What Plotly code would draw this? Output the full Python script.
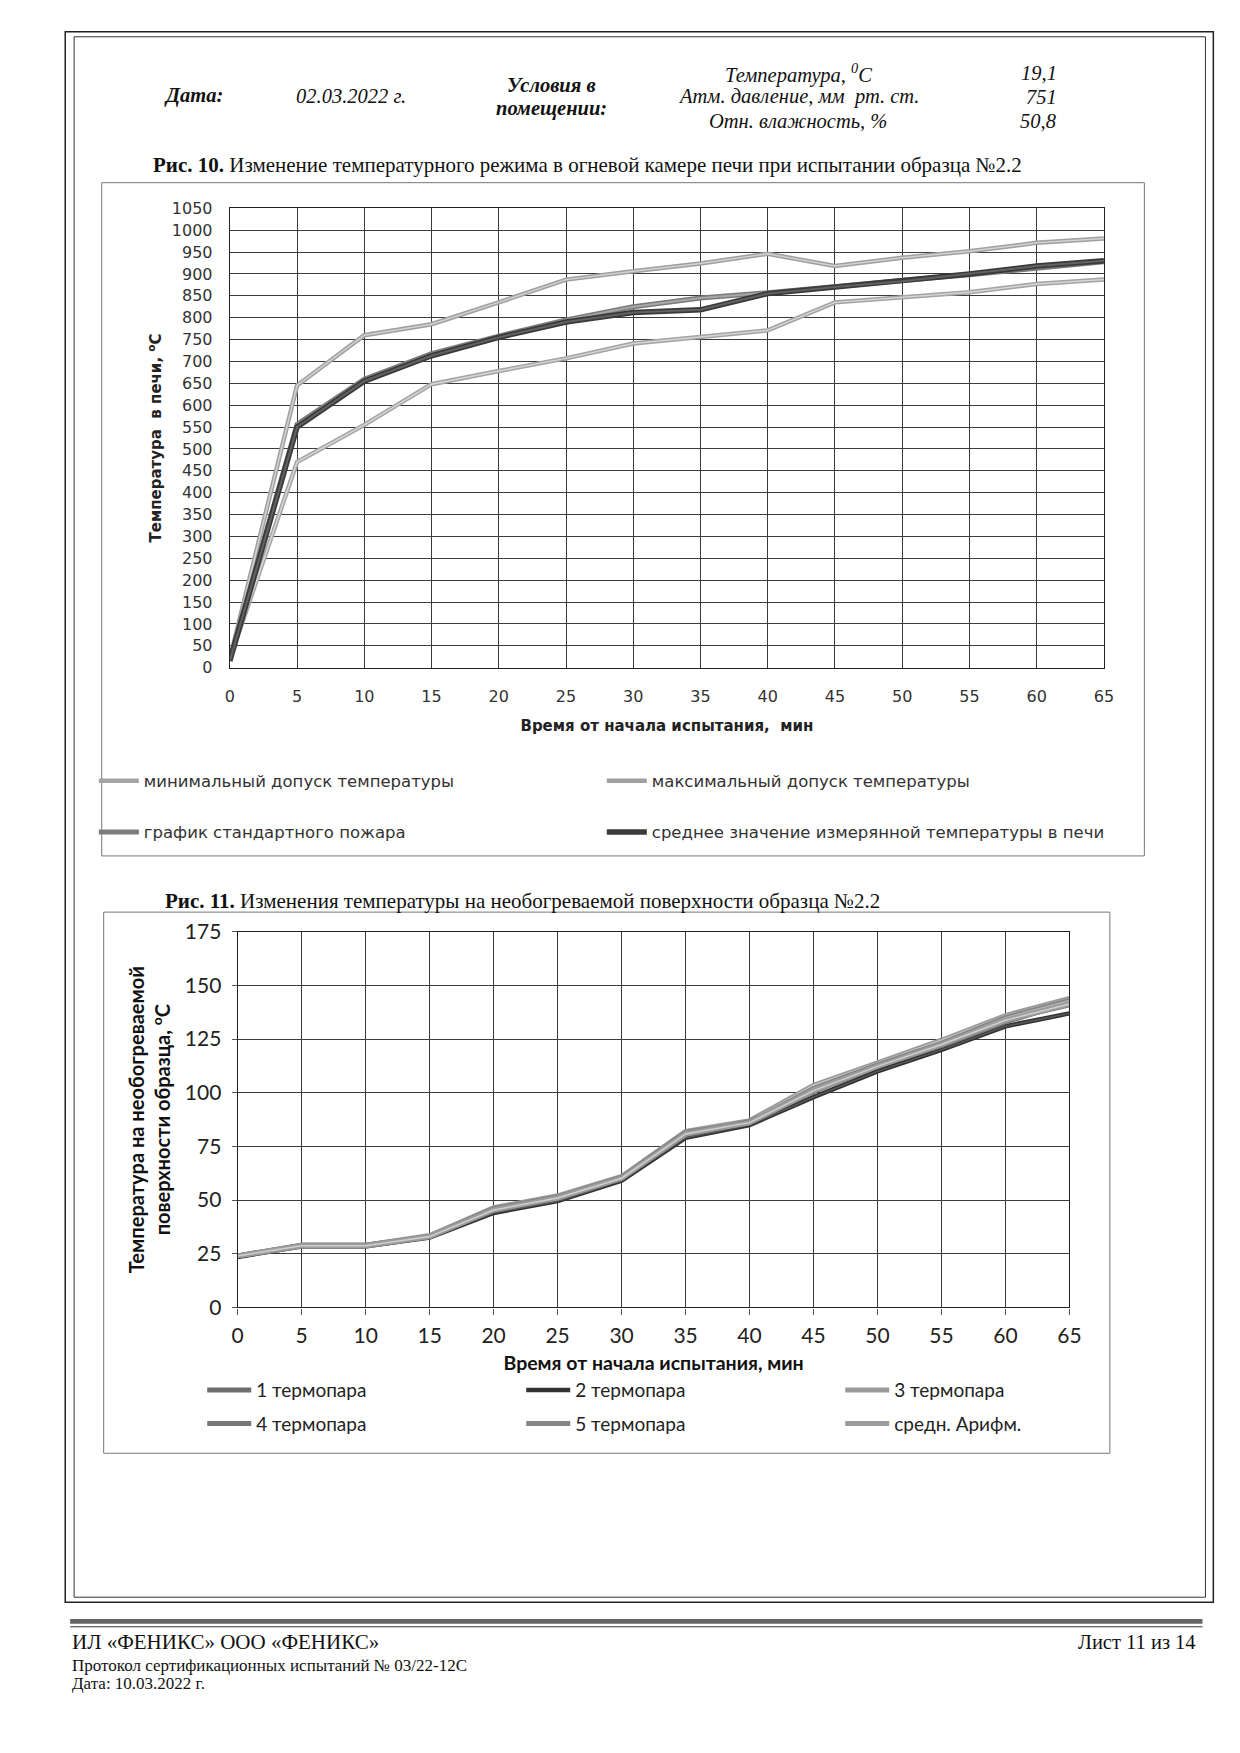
import plotly.graph_objects as go

# ---------------- data ----------------
time_min = [0, 5, 10, 15, 20, 25, 30, 35, 40, 45, 50, 55, 60, 65]

# Fig. 10 – furnace temperature
t_min_tol = [20, 470, 555, 648, 678, 707, 741, 756, 771, 835, 847, 858, 877, 887]
t_max_tol = [20, 645, 760, 785, 835, 887, 906, 924, 946, 918, 937, 952, 971, 981]
t_standard = [20, 556, 659, 718, 758, 795, 825, 845, 857, 872, 885, 898, 914, 928]
t_measured = [15, 550, 655, 713, 755, 790, 812, 818, 855, 870, 883, 900, 918, 930]

# Fig. 11 – unexposed surface temperature
tc1 = [24, 29, 29, 33, 45, 51, 60, 81, 86, 101, 112, 123, 134, 141]
tc2 = [23.5, 28.5, 28.5, 32.5, 44, 49.5, 59, 79, 85, 98, 110, 120, 131, 137]
tc3 = [24, 29, 29, 33.5, 46.5, 52, 61, 82, 87, 103.5, 114, 124.5, 136, 144]
tc4 = [24, 28.5, 28.5, 33, 45.5, 51, 60.5, 80.5, 86.5, 100.5, 112.5, 122, 133, 142]
tc5 = [24, 29, 29, 33, 46, 51.5, 60.5, 81.5, 86, 102, 113, 123, 135, 143]
tc_avg = [24, 28.7, 28.7, 33, 45.4, 51, 60.2, 80.8, 86.1, 101, 112.3, 122.5, 133.8, 141.4]

names1 = ["минимальный допуск температуры", "максимальный допуск температуры",
          "график стандартного пожара", "среднее значение измерянной температуры в печи"]
names2 = ["1 термопара", "2 термопара", "3 термопара", "4 термопара", "5 термопара", "средн. Арифм."]

x_ticks = list(range(0, 70, 5))
y1_ticks = list(range(0, 1100, 50))
y2_ticks = list(range(0, 200, 25))

# ---------------- helpers ----------------
W, H = 1240, 1753
def fx(px):
    return px / W
def fy(py):
    return 1 - py / H

SERIF = "Liberation Serif"
F1 = "DejaVu Sans"
F2 = "Lato"

fig = go.Figure()

def add_series(x, y, name, outer, inner, wo, wi, xa, ya, legend):
    fig.add_trace(go.Scatter(x=x, y=y, mode="lines", name=name,
                             line=dict(color=outer, width=wo),
                             xaxis=xa, yaxis=ya, legend=legend, showlegend=True))
    fig.add_trace(go.Scatter(x=x, y=y, mode="lines", name=name,
                             line=dict(color=inner, width=wi),
                             xaxis=xa, yaxis=ya, showlegend=False, hoverinfo="skip"))

# Fig 10 series
add_series(time_min, t_min_tol, names1[0], "#a4a4a4", "#d6d6d6", 4.5, 1.5, "x", "y", "legend")
add_series(time_min, t_max_tol, names1[1], "#a0a0a0", "#d2d2d2", 4.5, 1.5, "x", "y", "legend")
add_series(time_min, t_standard, names1[2], "#7a7a7a", "#a8a8a8", 5, 2, "x", "y", "legend2")
add_series(time_min, t_measured, names1[3], "#3a3a3a", "#626262", 5.5, 2, "x", "y", "legend2")

# Fig 11 series
add_series(time_min, tc1, names2[0], "#6e6e6e", "#a0a0a0", 5, 1.5, "x2", "y2", "legend3")
add_series(time_min, tc2, names2[1], "#333333", "#5a5a5a", 4.5, 1.5, "x2", "y2", "legend3")
add_series(time_min, tc3, names2[2], "#9a9a9a", "#c8c8c8", 5, 1.5, "x2", "y2", "legend3")
add_series(time_min, tc4, names2[3], "#777777", "#a6a6a6", 5, 1.5, "x2", "y2", "legend4")
add_series(time_min, tc5, names2[4], "#858585", "#b4b4b4", 5, 1.5, "x2", "y2", "legend4")
add_series(time_min, tc_avg, names2[5], "#9c9c9c", "#cfcfcf", 5, 1.5, "x2", "y2", "legend4")

grid = "#3a3a3a"

fig.update_layout(
    width=W, height=H,
    margin=dict(l=0, r=0, t=0, b=0),
    paper_bgcolor="white", plot_bgcolor="white",
    showlegend=True,
    xaxis=dict(domain=[fx(219), fx(1106)], range=[0, 65], tickvals=x_ticks,
               showgrid=True, gridcolor=grid, gridwidth=1.2,
               showline=True, linecolor="#222", linewidth=1.2, mirror=True,
               zeroline=False, ticks="outside", ticklen=14, tickcolor="rgba(0,0,0,0)",
               tickfont=dict(family=F1, size=16, color="#333"),
               title=dict(text="Время от начала испытания,\u00a0 мин",
                          font=dict(family=F1, size=15, color="#222", weight="bold"),
                          standoff=15),
               anchor="y", fixedrange=True),
    yaxis=dict(domain=[fy(655), fy(189)], range=[0, 1050], tickvals=y1_ticks,
               showgrid=True, gridcolor=grid, gridwidth=1.2,
               showline=True, linecolor="#222", linewidth=1.2, mirror=True,
               zeroline=False, ticks="outside", ticklen=13, tickcolor="rgba(0,0,0,0)",
               tickfont=dict(family=F1, size=16, color="#333"),
               title=dict(text="Температура \u00a0в печи, <sup>о</sup>С",
                          font=dict(family=F1, size=15, color="#222", weight="bold"),
                          standoff=6),
               anchor="x", fixedrange=True),
    xaxis2=dict(domain=[fx(227), fx(1071)], range=[0, 65], tickvals=x_ticks,
                showgrid=True, gridcolor=grid, gridwidth=1.2,
                showline=True, linecolor="#222", linewidth=1.2, mirror=True,
                zeroline=False, ticks="outside", ticklen=6, tickcolor="#555",
                ticklabelstandoff=3,
                tickfont=dict(family=F2, size=21, color="#222"),
                title=dict(text="Время от начала испытания, мин",
                           font=dict(family=F2, size=19.5, color="#111", weight="bold"),
                           standoff=10),
                anchor="y2", fixedrange=True),
    yaxis2=dict(domain=[fy(1304), fy(923)], range=[0, 175], tickvals=y2_ticks,
                showgrid=True, gridcolor=grid, gridwidth=1.2,
                showline=True, linecolor="#222", linewidth=1.2, mirror=True,
                zeroline=False, ticks="outside", ticklen=5, tickcolor="#555",
                ticklabelstandoff=6,
                tickfont=dict(family=F2, size=21, color="#222"),
                title=dict(text="Температура на необогреваемой<br>поверхности образца, <sup>о</sup>С",
                           font=dict(family=F2, size=20, color="#111", weight="bold"),
                           standoff=8),
                anchor="x2", fixedrange=True),
)

leg_common = dict(orientation="h", xanchor="left", yanchor="middle",
                  bgcolor="rgba(0,0,0,0)", borderwidth=0,
                  entrywidthmode="pixels", traceorder="normal", tracegroupgap=0)
fig.update_layout(
    legend=dict(x=fx(81), y=fy(770), entrywidth=453, itemwidth=40,
                font=dict(family=F1, size=16.5, color="#333"), **leg_common),
    legend2=dict(x=fx(81), y=fy(822), entrywidth=453, itemwidth=40,
                 font=dict(family=F1, size=16.5, color="#333"), **leg_common),
    legend3=dict(x=fx(191), y=fy(1388), entrywidth=260, itemwidth=44,
                 font=dict(family=F2, size=19, color="#222"), **leg_common),
    legend4=dict(x=fx(191), y=fy(1422), entrywidth=260, itemwidth=44,
                 font=dict(family=F2, size=19, color="#222"), **leg_common),
)

shapes = []
# page frame (double)
shapes.append(dict(type="rect", xref="paper", yref="paper", x0=fx(52), x1=fx(1217),
                   y0=fy(1603), y1=fy(10), line=dict(color="#222", width=1.5)))
shapes.append(dict(type="rect", xref="paper", yref="paper", x0=fx(61), x1=fx(1209),
                   y0=fy(1598), y1=fy(15), line=dict(color="#333", width=1)))
# chart boxes
shapes.append(dict(type="rect", xref="paper", yref="paper", x0=fx(89), x1=fx(1147),
                   y0=fy(846), y1=fy(163), line=dict(color="#777", width=1)))
shapes.append(dict(type="rect", xref="paper", yref="paper", x0=fx(91), x1=fx(1112),
                   y0=fy(1452), y1=fy(903), line=dict(color="#777", width=1)))
# footer rule
shapes.append(dict(type="rect", xref="paper", yref="paper", x0=fx(57), x1=fx(1206),
                   y0=fy(1625), y1=fy(1620), fillcolor="#666", line=dict(width=0)))
shapes.append(dict(type="line", xref="paper", yref="paper", x0=fx(57), x1=fx(1206),
                   y0=fy(1628), y1=fy(1628), line=dict(color="#333", width=1)))
fig.update_layout(shapes=shapes)

ann = []
def text(px, py, s, size, anchor="center", family=SERIF, italic=False, bold=False, color="#111"):
    ann.append(dict(x=fx(px), y=fy(py), xref="paper", yref="paper", text=s, showarrow=False,
                    xanchor=anchor, yanchor="middle", align=anchor if anchor != "center" else "center",
                    font=dict(family=family, size=size, color=color,
                              style="italic" if italic else "normal",
                              weight="bold" if bold else "normal")))

text(182, 75, "Дата:", 20.5, italic=True, bold=True)
text(342, 75, "02.03.2022 г.", 20.5, italic=True)
text(545, 64, "Условия в", 20.5, italic=True, bold=True)
text(545, 88, "помещении:", 20.5, italic=True, bold=True)
text(796, 52, "Температура, <sup>0</sup>С", 20.5, italic=True)
text(796, 76, "Атм. давление, мм \u00a0рт. ст.", 20.5, italic=True)
text(796, 100, "Отн. влажность, %", 20.5, italic=True)
text(1060, 52, "19,1", 20.5, anchor="right", italic=True)
text(1060, 76, "751", 20.5, anchor="right", italic=True)
text(1060, 100, "50,8", 20.5, anchor="right", italic=True)

text(582, 145, "<b>Рис. 10.</b> Изменение температурного режима в огневой камере печи при испытании образца №2.2", 21)
text(151, 892, "<b>Рис. 11.</b> Изменения температуры на необогреваемой поверхности образца №2.2", 21, anchor="left")

text(57, 1643, "ИЛ «ФЕНИКС» ООО «ФЕНИКС»", 21, anchor="left")
text(1201, 1643, "Лист 11 из 14", 20.5, anchor="right")
text(57, 1667, "Протокол сертификационных испытаний № 03/22-12С", 17, anchor="left")
text(57, 1686, "Дата: 10.03.2022 г.", 17, anchor="left")

fig.update_layout(annotations=ann)

fig.write_html("out.html")
